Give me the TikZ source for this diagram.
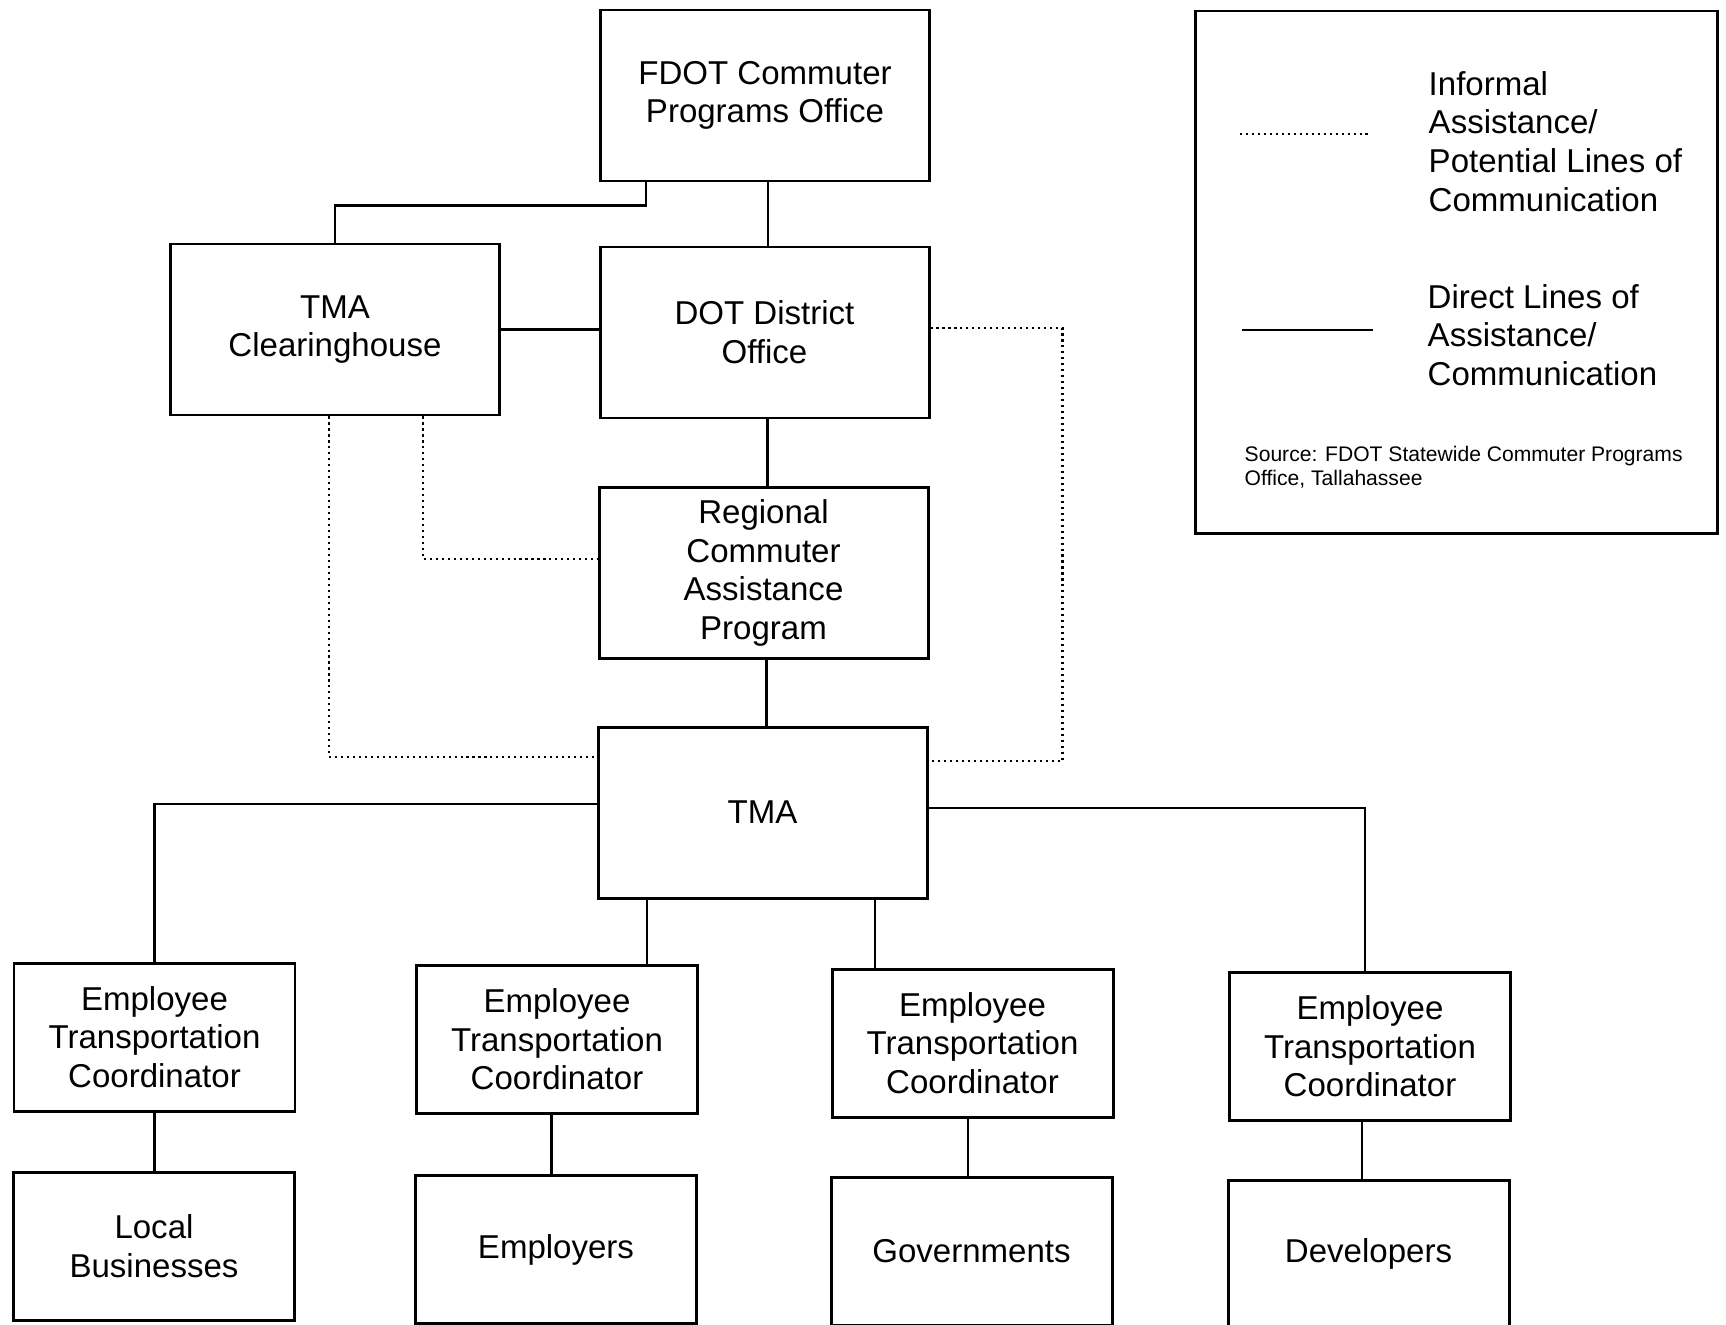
\documentclass[tikz,border=0pt]{standalone}
\usepackage{fontspec}
\setmainfont{Liberation Sans}
\usetikzlibrary{calc}

\begin{document}
\begin{tikzpicture}[
    font=\fontsize{9.4}{11}\selectfont,
    box/.style={draw, line width=0.85pt, minimum width=3.29cm, minimum height=1.71cm, align=center, inner sep=0pt},
    etcbox/.style={box, minimum width=2.81cm, minimum height=1.48cm},
    direct/.style={line width=0.6pt},
    informal/.style={line width=0.6pt, dash pattern=on 0.6pt off 1.1pt},
    legtext/.style={anchor=west, align=left, inner sep=0pt}
]
    \useasboundingbox (0,0) rectangle (17.26,-13.25);

    % top of the chart
    \node[box] (fdot) at (7.65,-0.955) {FDOT Commuter\\Programs Office};
    \node[box] (tmach) at (3.35,-3.295) {TMA\\Clearinghouse};
    \node[box] (dot) at (7.645,-3.325) {DOT District\\Office};
    \node[box] (rcap) at (7.635,-5.73) {Regional\\Commuter\\Assistance\\Program};
    \node[box] (tma) at (7.625,-8.125) {TMA};

    % coordinators and their groups
    \node[etcbox] (etc1) at (1.545,-10.37) {Employee\\Transportation\\Coordinator};
    \node[etcbox] (etc2) at (5.57,-10.395) {Employee\\Transportation\\Coordinator};
    \node[etcbox] (etc3) at (9.725,-10.43) {Employee\\Transportation\\Coordinator};
    \node[etcbox] (etc4) at (13.70,-10.465) {Employee\\Transportation\\Coordinator};
    \node[etcbox] (lb) at (1.54,-12.465) {Local\\Businesses};
    \node[etcbox] (emp) at (5.56,-12.495) {Employers};
    \node[etcbox] (gov) at (9.715,-12.515) {Governments};
    \node[etcbox] (dev) at (13.685,-12.54) {Developers};

    % direct lines
    \draw[direct] ([xshift=-1.19cm]fdot.south) |- ([yshift=0.37cm]tmach.north) -- (tmach.north);
    \draw[direct] ([xshift=0.03cm]fdot.south) -- ([xshift=0.03cm]fdot.south |- dot.north);
    \draw[direct] (tmach.east) -- (tmach.east -| dot.west);
    \draw[direct] ([xshift=0.03cm]dot.south) -- ([xshift=0.03cm]dot.south |- rcap.north);
    \draw[direct] ([xshift=0.03cm]rcap.south) -- ([xshift=0.03cm]rcap.south |- tma.north);
    \draw[direct] ([yshift=0.085cm]tma.west) -| (etc1.north);
    \draw[direct] ([yshift=0.045cm]tma.east) -| ([xshift=-0.05cm]etc4.north);
    \coordinate (t2) at ([xshift=-1.155cm]tma.south);
    \coordinate (t3) at ([xshift=1.125cm]tma.south);
    \draw[direct] (t2) -- (t2 |- etc2.north);
    \draw[direct] (t3) -- (t3 |- etc3.north);
    \foreach \a/\b/\s in {etc1/lb/0, etc2/emp/-0.055, etc3/gov/-0.045, etc4/dev/-0.077}
        \draw[direct] ([xshift=\s cm]\a.south) -- ([xshift=\s cm]\a.south |- \b.north);

    % informal lines
    \draw[informal] ([xshift=0.88cm]tmach.south) |- ([yshift=0.14cm]rcap.west);
    \draw[informal] ([xshift=-0.06cm]tmach.south) |- ([yshift=0.555cm]tma.west);
    \draw[informal] ([yshift=0.045cm]dot.east) -- ++(1.32,0) |- ([yshift=0.515cm]tma.east);

    % legend
    \node[draw, line width=0.85pt, minimum width=5.22cm, minimum height=5.22cm] (legend) at (14.56,-2.72) {};
    \coordinate (infa) at (12.40,-1.34);
    \coordinate (infb) at (13.70,-1.34);
    \coordinate (dira) at (12.42,-3.30);
    \coordinate (dirb) at (13.73,-3.30);
    \draw[informal] (infa) -- (infb);
    \draw[direct] (dira) -- (dirb);
    \node[legtext] (inftext) at (14.28,-1.415) {Informal\\Assistance/\\Potential Lines of\\Communication};
    \node[legtext] (dirtext) at (14.27,-3.35) {Direct Lines of\\Assistance/\\Communication};
    \node[legtext, font=\fontsize{6}{6.8}\selectfont] (source) at (12.44,-4.675) {Source: FDOT Statewide Commuter Programs\\Office, Tallahassee};

\end{tikzpicture}
\end{document}
